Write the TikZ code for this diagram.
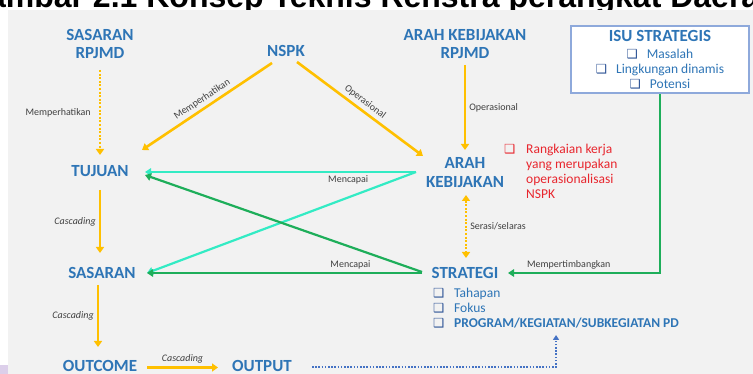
\documentclass[tikz,border=0pt]{standalone}
\usepackage{fontspec}
\setmainfont{Carlito}
\newfontfamily\simbol{DejaVu Sans}
\newfontfamily\judulfont{Liberation Sans}
\usetikzlibrary{arrows.meta}
\definecolor{biru}{HTML}{2E75B6}
\definecolor{birutua}{HTML}{2F5597}
\definecolor{kuning}{HTML}{FFC000}
\definecolor{tosca}{HTML}{33EBC4}
\definecolor{hijau}{HTML}{1EAE5A}
\definecolor{merah}{HTML}{E8262E}
\definecolor{latar}{HTML}{F2F2F2}
\definecolor{teks}{HTML}{404040}
\definecolor{garisbiru}{HTML}{4472C4}
\definecolor{bingkai}{HTML}{8EA9DB}
\definecolor{ungu}{HTML}{DCCFEA}
\newcommand{\kotak}[1][birutua]{{\simbol\fontsize{12.5}{12}\selectfont\color{#1}\char"2751}}

\begin{document}
\begin{tikzpicture}[x=1pt,y=-1pt,
	judul/.style={font=\fontsize{17}{18.5}\selectfont\bfseries, text=biru, align=center, inner sep=0pt},
	butir/.style={font=\fontsize{13.5}{15}\selectfont, inner sep=0pt},
	ket/.style={font=\fontsize{10}{12}\selectfont, text=teks, inner sep=3pt},
	kaskade/.style={ket, font=\fontsize{10}{12}\selectfont\itshape},
	panah/.style={line width=2.6pt, draw=kuning, -{Triangle[width=8pt,length=6pt]}},
	titik/.style={line width=2.6pt, draw=kuning, dash pattern=on 2pt off 1.6pt},
	capai/.style={line width=2.2pt, -{Triangle[width=7.5pt,length=6pt]}}]
	\useasboundingbox (0,0) rectangle (753,374);
	\fill[latar] (8,10) rectangle (753,374);
	\fill[ungu] (0,365) rectangle (8,374);
	\begin{scope}
		\clip (0,0) rectangle (753,10);
		\node[anchor=base west, inner sep=0pt, font=\judulfont\fontsize{32}{36}\selectfont\bfseries] (gambar) at (-37,7.3) {Gambar 2.1 Konsep Teknis Renstra perangkat Daerah};
	\end{scope}

	\node[judul] (srpjmd) at (100,44) {SASARAN\\RPJMD};
	\node[judul] (nspk) at (286,51) {NSPK};
	\node[judul] (akrpjmd) at (465,44) {ARAH KEBIJAKAN\\RPJMD};
	\node[draw=bingkai, line width=1.3pt, fill=white, minimum width=178pt, minimum height=67pt, inner sep=0pt, align=center, text=biru, font=\fontsize{13.5}{15}\selectfont] (isu) at (660,59.5)
		{{\fontsize{17}{18}\selectfont\bfseries ISU STRATEGIS}\\[1.5pt] \kotak\hspace{9pt}Masalah\\ \kotak\hspace{9pt}Lingkungan dinamis\\ \kotak\hspace{9pt}Potensi};
	\node[judul] (tujuan) at (100,171) {TUJUAN};
	\node[judul] (arah) at (465,172.5) {ARAH\\KEBIJAKAN};
	\node[butir, text=merah, anchor=base west] (rangkaian) at (504,153.3)
		{\begin{tabular}[t]{@{}l@{}l@{}}\makebox[22pt][l]{\kotak[merah]} & Rangkaian kerja\\ & yang merupakan\\ & operasionalisasi\\ & NSPK\end{tabular}};
	\node[judul] (sasaran) at (102,273) {SASARAN};
	\node[judul] (strategi) at (465,273) {STRATEGI};
	\node[butir, text=biru, anchor=base west] (rincian) at (433,297.3)
		{\begin{tabular}[t]{@{}l@{}l@{}}\makebox[21pt][l]{\kotak} & Tahapan\\ \kotak & Fokus\\ \kotak & \textbf{PROGRAM/KEGIATAN/SUBKEGIATAN PD}\end{tabular}};
	\node[judul] (outcome) at (100,365.5) {OUTCOME};
	\node[judul] (output) at (262,365.5) {OUTPUT};

	\draw[titik, -{Triangle[width=8pt,length=6pt]}] ([shift={(0,26)}]srpjmd.center) -- ([shift={(0,-16)}]tujuan.center) node[ket, midway, left=5pt]{Memperhatikan};
	\draw[panah] ([shift={(-14,12)}]nspk.center) -- ([shift={(42,-21)}]tujuan.center) node[ket, midway, sloped, above]{Memperhatikan};
	\draw[panah] ([shift={(11,11)}]nspk.center) -- ([shift={(-42,-16.5)}]arah.center) node[ket, midway, sloped, above]{Operasional};
	\draw[panah] ([shift={(0,21)}]akrpjmd.center) -- ([shift={(0,-22.5)}]arah.center) node[ket, midway, right]{Operasional};
	\draw[titik, {Triangle[width=8pt,length=6pt]}-{Triangle[width=8pt,length=6pt]}] ([shift={(1,22.5)}]arah.center) -- ([shift={(1,-15)}]strategi.center) node[ket, midway, right]{Serasi/selaras};
	\draw[capai, tosca] ([shift={(-49,-0.5)}]arah.center) -- ([shift={(45,1)}]tujuan.center) node[ket, pos=0.25, below]{Mencapai};
	\draw[capai, tosca] ([shift={(-49,-0.5)}]arah.center) -- ([shift={(45,0)}]sasaran.center);
	\draw[capai, hijau] ([shift={(-43,-1)}]strategi.center) -- ([shift={(45,4)}]tujuan.center);
	\draw[capai, hijau] ([shift={(-43,0)}]strategi.center) -- ([shift={(45,0)}]sasaran.center) node[ket, pos=0.26, above]{Mencapai};
	\draw[capai, hijau] (isu.south) |- ([shift={(43,0)}]strategi.center) node[ket, pos=0.8, above]{Mempertimbangkan};
	\draw[panah] ([shift={(0,19)}]tujuan.center) -- ([shift={(-2,-20)}]sasaran.center) node[kaskade, midway, left]{Cascading};
	\draw[panah] ([shift={(-4,12)}]sasaran.center) -- ([shift={(-2,-18.5)}]outcome.center) node[kaskade, midway, left]{Cascading};
	\draw[panah] ([shift={(47,2)}]outcome.center) -- ([shift={(-44,2)}]output.center) node[kaskade, midway, above]{Cascading};
	\draw[garisbiru, line width=1.6pt, dash pattern=on 1.6pt off 1.6pt, -{Triangle[width=6pt,length=5pt]}] ([shift={(50,1.5)}]output.center) -| ([shift={(0,3)}]rincian.south);
\end{tikzpicture}
\end{document}
